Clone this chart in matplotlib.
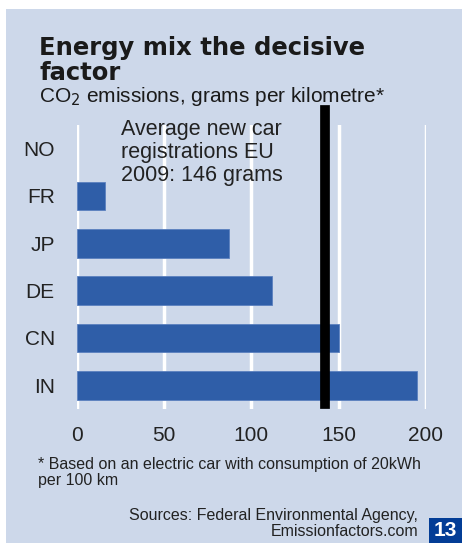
import matplotlib
matplotlib.use("Agg")
import matplotlib.pyplot as plt
from matplotlib.patches import Rectangle

# data
countries = ["NO", "FR", "JP", "DE", "CN", "IN"]
emissions = [0, 16, 87, 112, 150, 195]
eu_average_pos = 142   # where the black line sits in the picture
xticks = [0, 50, 100, 150, 200]

bg = "#cdd8ea"
bar_col = "#2f5ea8"
W, H = 462, 543

fig = plt.figure(figsize=(W / 100, H / 100), dpi=100)
fig.patch.set_facecolor("white")
fig.patches.append(Rectangle((6 / W, 0), 1 - 6 / W, 1 - 9 / H,
                             transform=fig.transFigure, facecolor=bg,
                             edgecolor="none", zorder=-5))

# axes box in pixels: x 77..425.7, y 125..409
ax = fig.add_axes([77 / W, 1 - 409 / H, (425.7 - 77) / W, (409 - 125) / H])
ax.set_facecolor(bg)
ax.patch.set_alpha(0)
for s in ax.spines.values():
    s.set_visible(False)

ypos = list(range(len(countries)))
bars = ax.barh(ypos, emissions, height=0.61, color=bar_col,
               edgecolor="#5b80bf", linewidth=0.6, zorder=3)
for b, v in zip(bars, emissions):
    if v == 0:
        b.set_visible(False)
ax.set_xlim(0, 200)
ax.set_ylim(5.5, -0.5)
ax.set_xticks(xticks)
ax.set_yticks(ypos)
ax.set_yticklabels(countries)
ax.grid(axis="x", color="white", linewidth=2.5, zorder=1)
ax.grid(axis="y", visible=False)
ax.tick_params(axis="x", length=0, pad=12, labelsize=15, labelcolor="#222222")
ax.tick_params(axis="y", length=0, pad=16, labelsize=15, labelcolor="#222222")
for lab in ax.get_xticklabels() + ax.get_yticklabels():
    lab.set_family("Liberation Sans")

ax.axvline(eu_average_pos, ymin=0.018, ymax=1.053, color="black",
           linewidth=7, clip_on=False, zorder=5)

fig.text(121 / W, 1 - 119 / H,
         "Average new car\nregistrations EU\n2009: 146 grams",
         family="Liberation Sans", fontsize=15.5, color="#222222",
         va="top", ha="left", linespacing=1.12)

# titles
fig.text(39 / W, 1 - 55 / H, "Energy mix the decisive", family="DejaVu Sans",
         weight="heavy", fontsize=17.5, color="#1a1a1a", va="baseline")
fig.text(39 / W, 1 - 80 / H, "factor", family="DejaVu Sans",
         weight="heavy", fontsize=17.5, color="#1a1a1a", va="baseline")
fig.text(39 / W, 1 - 102 / H, "CO$_2$ emissions, grams per kilometre*",
         family="Liberation Sans", fontsize=15, color="#1a1a1a",
         va="baseline")

# footnotes
fig.text(38 / W, 1 - 457 / H,
         "* Based on an electric car with consumption of 20kWh\nper 100 km",
         family="Liberation Sans", fontsize=11.5, color="#222222",
         va="top", ha="left", linespacing=1.05)
fig.text(418 / W, 1 - 508 / H,
         "Sources: Federal Environmental Agency,\nEmissionfactors.com",
         family="Liberation Sans", fontsize=11.5, color="#222222",
         va="top", ha="right", multialignment="right", linespacing=1.05)

fig.patches.append(Rectangle((429 / W, 0), 1 - 429 / W, 25 / H,
                             transform=fig.transFigure, facecolor="#033d96",
                             edgecolor="none", zorder=1))
fig.text(445.5 / W, 12 / H, "13", family="Liberation Sans", weight="bold",
         fontsize=15, color="white", ha="center", va="center")

fig.savefig("out.png", dpi=100, facecolor=fig.get_facecolor())
